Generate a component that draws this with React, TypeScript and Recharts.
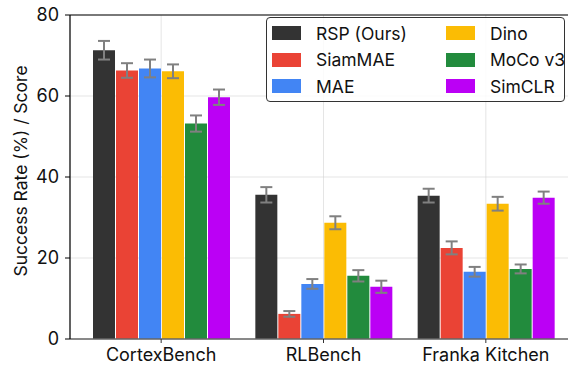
import React from 'react';
import {
  BarChart,
  Bar,
  XAxis,
  YAxis,
  CartesianGrid,
  ErrorBar,
  ReferenceLine,
  Label
} from 'recharts';

const categories = ['CortexBench', 'RLBench', 'Franka Kitchen'];

const seriesNames = ['RSP (Ours)', 'SiamMAE', 'MAE', 'Dino', 'MoCo v3', 'SimCLR'];
const seriesColors = ['#333333', '#EA4335', '#4285F4', '#FBBC04', '#228B3D', '#BB00F5'];

const rsp = [71.3, 35.6, 35.4];
const siamMae = [66.3, 6.2, 22.5];
const mae = [66.8, 13.6, 16.6];
const dino = [66.1, 28.7, 33.4];
const mocoV3 = [53.2, 15.6, 17.3];
const simClr = [59.7, 12.9, 34.9];

const rspErr = [2.3, 1.9, 1.7];
const siamMaeErr = [1.8, 0.7, 1.6];
const maeErr = [2.2, 1.2, 1.2];
const dinoErr = [1.7, 1.6, 1.7];
const mocoV3Err = [2.0, 1.4, 1.1];
const simClrErr = [1.9, 1.5, 1.5];

const yTicks = [0, 20, 40, 60, 80];

const values = [rsp, siamMae, mae, dino, mocoV3, simClr];
const errors = [rspErr, siamMaeErr, maeErr, dinoErr, mocoV3Err, simClrErr];

const data = categories.map((name, i) => {
  const row: Record<string, string | number> = { name };
  seriesNames.forEach((s, k) => {
    row[`s${k}`] = values[k][i];
    row[`e${k}`] = errors[k][i];
  });
  return row;
});

const FONT = 'Inter, "Noto Sans", sans-serif';

// legend sits as an overlay so it doesn't eat into the plot height
function LegendBox() {
  const order = [0, 3, 1, 4, 2, 5];
  return (
    <div
      style={{
        position: 'absolute',
        left: 266,
        top: 17,
        width: 299,
        height: 85,
        boxSizing: 'border-box',
        border: '1.5px solid #333',
        borderRadius: 4,
        background: 'rgba(255,255,255,0.85)',
        padding: '2px 0 0 5px',
        display: 'grid',
        gridTemplateColumns: '174px 120px',
        gridAutoRows: '26.5px',
        fontFamily: FONT,
        fontSize: 17.5,
        color: '#111'
      }}
    >
      {order.map(k => (
        <div key={k} style={{ display: 'flex', alignItems: 'center' }}>
          <span style={{ width: 29, height: 14, background: seriesColors[k], marginRight: 15 }} />
          <span>{seriesNames[k]}</span>
        </div>
      ))}
    </div>
  );
}

function YLabel({ viewBox }: { viewBox?: { x: number; y: number; width: number; height: number } }) {
  if (!viewBox) return null;
  const cx = 20;
  const cy = viewBox.y + viewBox.height / 2 - 6;
  return (
    <text
      x={cx}
      y={cy}
      transform={`rotate(-90 ${cx} ${cy})`}
      textAnchor="middle"
      dominantBaseline="central"
      fontFamily={FONT}
      fontSize={17.5}
      fill="#111"
    >
      Success Rate (%) / Score
    </text>
  );
}

export default function App() {
  return (
    <div style={{ position: 'fixed', left: 0, top: 0, width: 568, height: 366, overflow: 'hidden', background: '#fff' }}>
      <BarChart
        width={580}
        height={366}
        data={data}
        margin={{ top: 15, right: 3, bottom: 0, left: 0 }}
        barSize={22}
        barGap={1}
      >
        <XAxis
          dataKey="name"
          height={27}
          padding={{ left: 10, right: 10 }}
          tick={{ fill: '#111', fontSize: 18, fontFamily: FONT }}
          tickSize={4}
          tickMargin={5}
          axisLine={{ stroke: '#666', strokeWidth: 1.5 }}
          tickLine={{ stroke: '#333' }}
        />
        <YAxis
          width={70}
          domain={[0, 80]}
          ticks={yTicks}
          tick={{ fill: '#111', fontSize: 18, fontFamily: FONT }}
          tickSize={5}
          tickMargin={6}
          axisLine={{ stroke: '#000', strokeWidth: 1.2 }}
          tickLine={{ stroke: '#000' }}
        >
          <Label content={<YLabel />} />
        </YAxis>
        {seriesNames.map((s, k) => (
          <Bar key={s} dataKey={`s${k}`} name={s} fill={seriesColors[k]} isAnimationActive={false}>
            <ErrorBar dataKey={`e${k}`} width={6} stroke="#808080" strokeWidth={2} direction="y" />
          </Bar>
        ))}
        <CartesianGrid stroke="#cfcfcf" strokeOpacity={0.55} />
        <ReferenceLine y={80} stroke="#000" strokeWidth={1.2} />
      </BarChart>
      <LegendBox />
    </div>
  );
}
